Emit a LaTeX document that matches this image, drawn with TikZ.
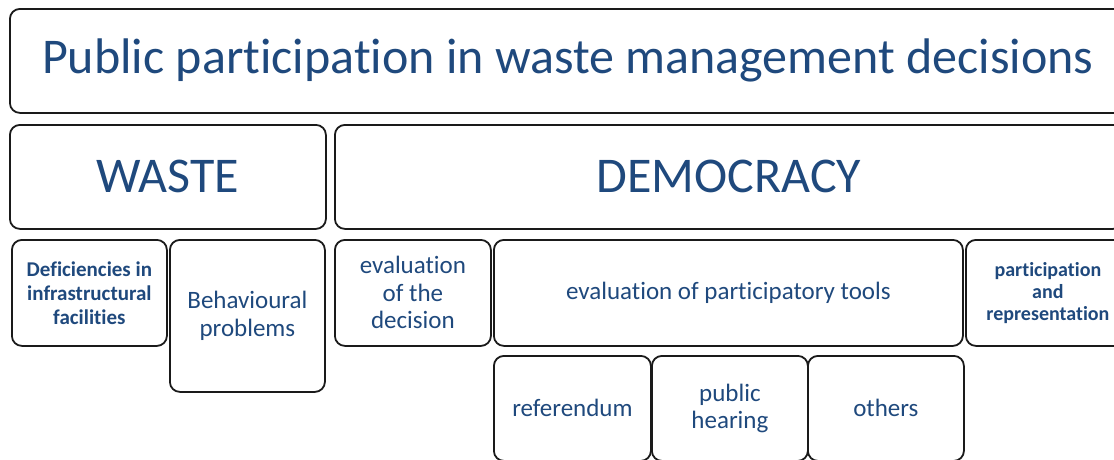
\documentclass[tikz,border=0pt]{standalone}
\usepackage{fontspec}
\setmainfont[Ligatures={NoCommon,NoDiscretionary}, Contextuals=NoAlternate]{Carlito}
\definecolor{txtblue}{HTML}{1F497D}
\definecolor{edge}{HTML}{1A1A1A}
\begin{document}
\begin{tikzpicture}[x=1pt, y=-1pt, line join=round,
  box/.style={draw=edge, line width=1.8pt, rounded corners=10pt, fill=white,
    text=txtblue, align=center, inner sep=0pt, anchor=north west},
  big/.style={font=\fontsize{50}{56}\selectfont},
  mid/.style={font=\fontsize{25}{27.5}\selectfont},
  small/.style={font=\bfseries\fontsize{21}{24}\selectfont}]
  \useasboundingbox (0,0) rectangle (1114,459);
  \clip (0,0) rectangle (1114,459);
  % title and the two columns
  \node[box, big, minimum width=1116, minimum height=104] (title) at (9,8)
    {Public participation in waste management decisions};
  \node[box, big, minimum width=316, minimum height=104] (waste) at (9,124) {WASTE};
  \node[box, big, minimum width=788, minimum height=104] (democ) at (334,124) {DEMOCRACY};
  % waste side
  \node[box, small, minimum width=155, minimum height=106] (defic) at (11,239)
    {Deficiencies in\\infrastructural\\facilities};
  \node[box, mid, minimum width=155, minimum height=152] (behav) at (169,239)
    {Behavioural\\problems};
  % democracy side
  \node[box, mid, minimum width=156, minimum height=106] (evdec) at (334,239)
    {evaluation\\of the\\decision};
  \node[box, mid, minimum width=469, minimum height=106] (evtools) at (493,239)
    {evaluation of participatory tools};
  \node[box, small, font=\fontsize{20}{22}\bfseries\selectfont, minimum width=164, minimum height=106] (partrep) at (965,239)
    {participation\\and\\representation};
  % participatory tools
  \node[box, mid, minimum width=157, minimum height=105] (refer) at (493,355) {referendum};
  \node[box, mid, minimum width=156, minimum height=105] (hear) at (651,355) {public\\hearing};
  \node[box, mid, minimum width=156, minimum height=105] (others) at (807,355) {others};
\end{tikzpicture}
\end{document}
